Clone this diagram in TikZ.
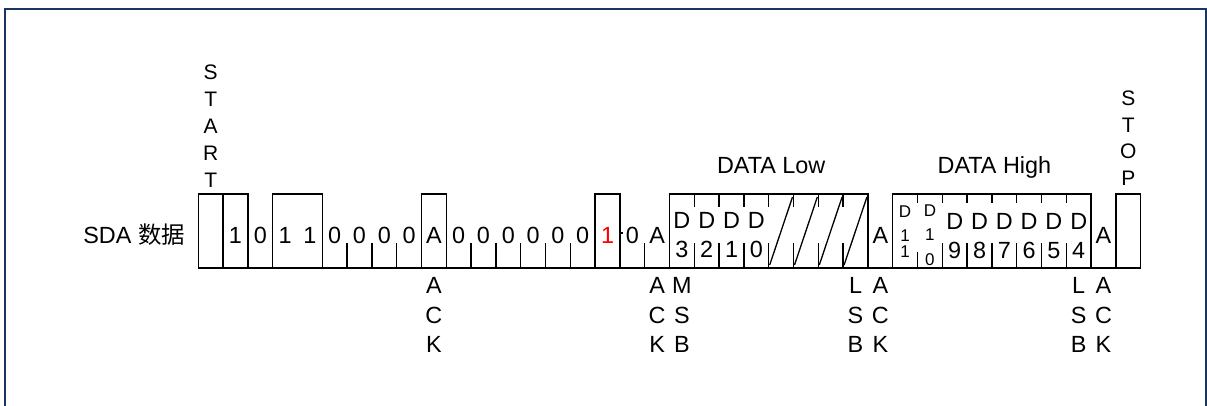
\documentclass[tikz,border=0pt]{standalone}
\usepackage{fontspec}
\setmainfont{Liberation Sans}
\newfontfamily\cjk{Noto Sans CJK SC}
\definecolor{framecol}{RGB}{23,55,94}
\tikzset{
frame/.style = {draw=framecol, line width=2pt},
sig/.style   = {draw, line width=1.3pt},
bit/.style   = {inner sep=0pt, font=\fontsize{23.4}{29.3}\selectfont},
stack/.style = {bit, align=center, anchor=north},
side/.style  = {inner sep=0pt, align=center, anchor=north, font=\fontsize{21}{27}\selectfont},
tiny/.style  = {inner sep=0pt, align=center, anchor=north, font=\fontsize{17}{24.5}\selectfont}
}
\begin{document}
\begin{tikzpicture}[x=1pt, y=-1pt]
  \clip (0,0) rectangle (1207,405);
  \draw [frame] (5,9) rectangle (1205.5,430);
  \node [bit, anchor=base east]       (sda)       at (185,243.3)  {SDA {\cjk 数据}};

  \begin{scope}[shift={(198.3,0)}, x=24.8pt]
  \draw [sig] (0,268) -- (38,268);
  \foreach \a/\b in {0/1,1/2,3/5,9/10,16/17,19/27,28/36,37/38}
    \draw [sig] (\a,194) rectangle (\b,268);
  \foreach \c in {6,7,8,11,12,13,14,15,18,20,21,...,26,30,31,...,35}
    \draw [sig] (\c,243) -- (\c,268);
  \draw [sig] (29,252) -- (29,268);
  \foreach \c in {20,21,...,26}
    \draw [sig] (\c,194) -- (\c,207);
  \foreach \c in {29,30,...,35}
    \draw [sig] (\c,194) -- (\c,203);
  \foreach \c in {23,24,25,26}
    \draw [sig] (\c+0.04,265) -- (\c+0.96,197);
  \draw [sig] (17,233) -- (17.12,233);

  \foreach \c/\t in {1/1,2/0,3/1,4/1,5/0,6/0,7/0,8/0,9/A,10/0,11/0,12/0,13/0,14/0,15/0,17/0,18/A,27/A,36/A}
    \node [bit]                       (b\c)       at (\c+0.5,235) {\t};
  \node [bit, text=red]               (b16)       at (16.5,235)   {1};

  \foreach \c/\t in {19/3,20/2,21/1,22/0}
    \node [stack]                     (lo\t)      at (\c+0.5,212.3) {D\\\t};
  \foreach \c/\t in {30/9,31/8,32/7,33/6,34/5,35/4}
    \node [stack]                     (hi\t)      at (\c+0.5,213.3) {D\\\t};
  \node [tiny]                        (hi11)      at (28.5,205.2) {D\\1\\[-8.5pt]1};
  \node [tiny]                        (hi10)      at (29.5,204.2) {D\\1\\0};

  \node [bit, anchor=base]            (lowtitle)  at (23.1,173.4) {DATA Low};
  \node [bit, anchor=base]            (hightitle) at (32.1,173.4) {DATA High};
  \node [side]                        (start)     at (0.5,64.5)   {S\\T\\A\\R\\T};
  \node [side, font=\fontsize{21}{26.7}\selectfont] (stop) at (37.5,90.5) {S\\T\\O\\P};

  \node [stack]                       (ack1)      at (9.5,277.6)  {A\\C\\K};
  \node [stack]                       (ack2)      at (18.5,277.6) {A\\C\\K};
  \node [stack]                       (msb)       at (19.5,277.6) {M\\S\\B};
  \node [stack]                       (lsb1)      at (26.5,277.6) {L\\S\\B};
  \node [stack]                       (ack3)      at (27.5,277.6) {A\\C\\K};
  \node [stack]                       (lsb2)      at (35.5,277.6) {L\\S\\B};
  \node [stack]                       (ack4)      at (36.5,277.6) {A\\C\\K};
  \end{scope}
\end{tikzpicture}
\end{document}
